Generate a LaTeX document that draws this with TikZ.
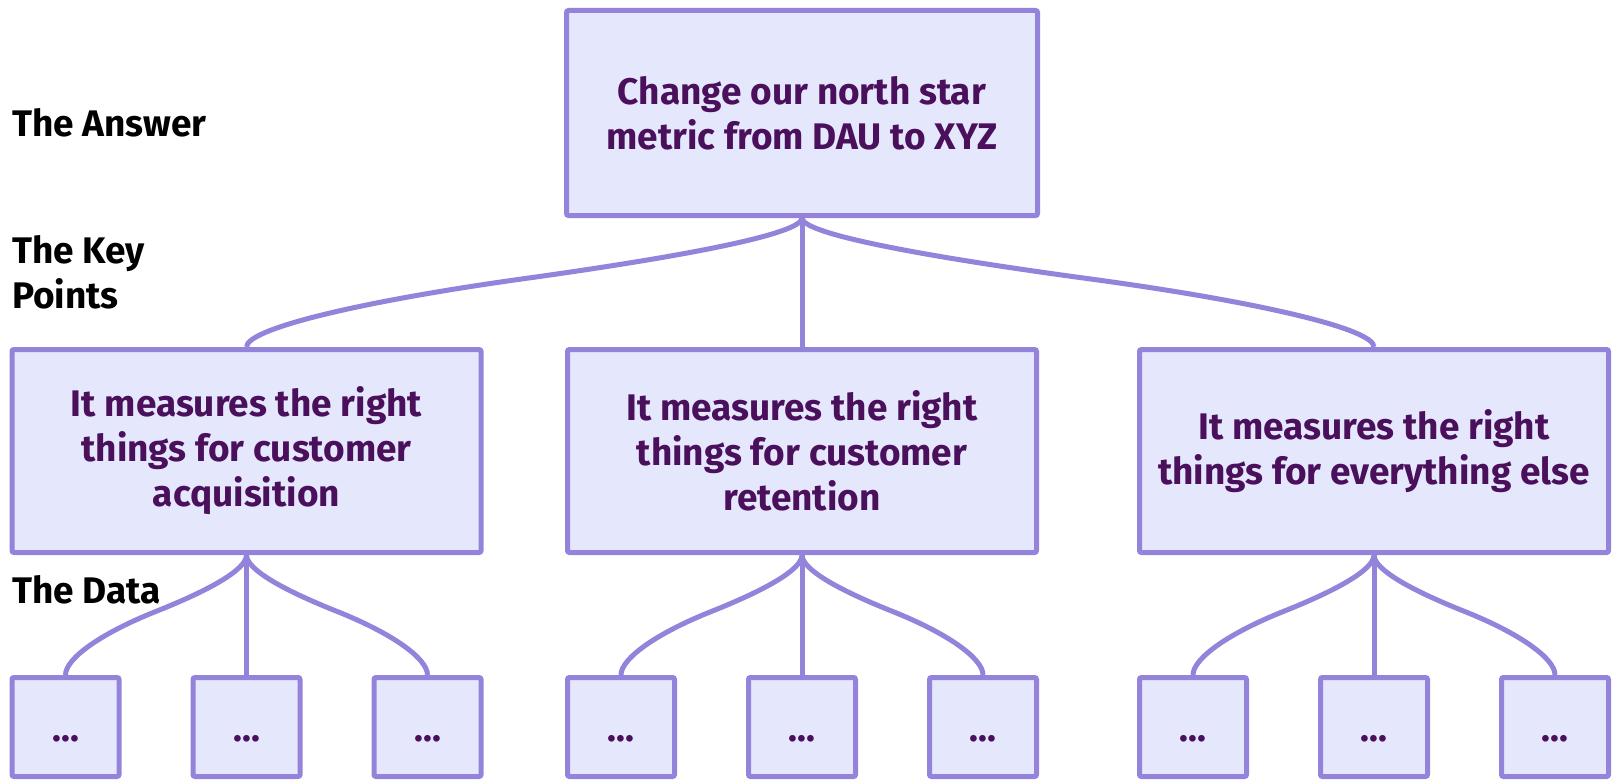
\documentclass[tikz,border=0pt]{standalone}
\usepackage{fontspec}
\setmainfont{Fira Sans}
\usetikzlibrary{calc}
\definecolor{edge}{RGB}{148,131,219}
\definecolor{boxfill}{RGB}{229,232,252}
\definecolor{ink}{RGB}{74,16,92}
\tikzset{
  txt/.style={font=\fontsize{37}{45}\selectfont\bfseries},
  box/.style={txt, draw=edge, line width=5pt, fill=boxfill, rounded corners=2pt,
    text=ink, align=center, inner sep=0pt},
  bigbox/.style={box, minimum width=471pt, minimum height=205pt},
  keybox/.style={box, minimum width=469pt, minimum height=203pt},
  databox/.style={box, minimum width=107pt, minimum height=99pt, text height=28pt, text depth=0pt},
  lbl/.style={txt, text=black, align=left, inner sep=0pt, anchor=base west},
  link/.style={draw=edge, line width=5pt},
  branch/.style={to path={let \p1=(\tikztostart), \p2=(\tikztotarget) in
    .. controls ({\x1},{\y1+0.12*(\y2-\y1)}) and ({\x1+0.2*(\x2-\x1)},{\y1+0.29*(\y2-\y1)})
    .. ({0.5*\x1+0.5*\x2},{\y1+0.47*(\y2-\y1)})
    .. controls ({\x1+0.8*(\x2-\x1)},{\y1+0.65*(\y2-\y1)}) and ({\x2},{\y1+0.86*(\y2-\y1)})
    .. (\tikztotarget)}}
}
\begin{document}
\begin{tikzpicture}[x=1pt,y=-1pt]
\useasboundingbox (0,0) rectangle (1612,781);
% labels
\node[lbl] (la) at (12,137) {The Answer};
\node[lbl] (lk) at (12,308) {The Key\\Points};
\node[lbl] (ld) at (12,603) {The Data};
% boxes
\node[bigbox] (top) at (802,113) {Change our north star\\metric from DAU to XYZ};
\node[keybox] (k1) at (246.5,451) {It measures the right\\things for customer\\acquisition};
\node[keybox] (k2) at (802,451) {It measures the right\\things for customer\\retention};
\node[keybox] (k3) at (1374,451) {It measures the right\\things for everything else};
\node[databox] (d11) at (65.5,727) {…};
\node[databox] (d12) at (246.5,727) {…};
\node[databox] (d13) at (427.5,727) {…};
\node[databox] (d21) at (621,727) {…};
\node[databox] (d22) at (802,727) {…};
\node[databox] (d23) at (983,727) {…};
\node[databox] (d31) at (1193,727) {…};
\node[databox] (d32) at (1374,727) {…};
\node[databox] (d33) at (1555,727) {…};
% connectors
\draw[link] (top.south) to[branch] (k1.north);
\draw[link] (top.south) -- (k2.north);
\draw[link] (top.south) to[branch] (k3.north);
\foreach \k in {1,2,3}{
  \draw[link] (k\k.south) to[branch] (d\k1.north);
  \draw[link] (k\k.south) -- (d\k2.north);
  \draw[link] (k\k.south) to[branch] (d\k3.north);
}
\end{tikzpicture}
\end{document}
